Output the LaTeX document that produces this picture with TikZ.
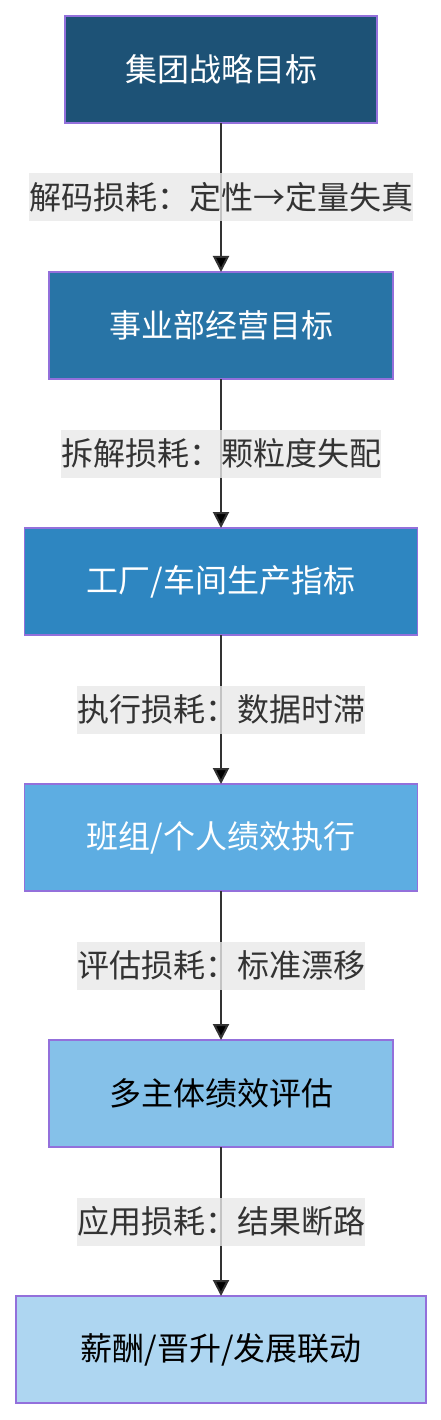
\documentclass[tikz,border=0pt]{standalone}
\usepackage{fontspec}
\setmainfont{Noto Sans CJK SC}
\usetikzlibrary{
    arrows.meta,
    positioning
}
\definecolor{lvA}{HTML}{1D5276}
\definecolor{lvB}{HTML}{2874A6}
\definecolor{lvC}{HTML}{2E86C1}
\definecolor{lvD}{HTML}{5DADE2}
\definecolor{lvE}{HTML}{85C1E9}
\definecolor{lvF}{HTML}{AED6F1}
\definecolor{rim}{HTML}{9370DB}
\definecolor{ink}{HTML}{333333}
\definecolor{lossgray}{HTML}{E8E8E8}
\tikzset{
    every picture/.style = {
        > = {Triangle[length=16pt, width=16pt]},
        line width = 2pt
    },
    level/.style = {
        rectangle,
        draw = rim,
        line width = 1.5pt,
        inner xsep = 60pt,
        inner ysep = 0pt,
        outer sep = 0pt,
        minimum height = 107pt,
        text = white
    },
    dark/.style = {text = black},
    loss/.style = {
        fill = lossgray,
        fill opacity = 0.8,
        text opacity = 1,
        text = ink,
        inner xsep = 0pt,
        inner ysep = 0pt,
        minimum height = 48pt
    }
}

\begin{document}
\begin{tikzpicture}[node font = {\fontsize{32pt}{48pt}\selectfont}]
    \useasboundingbox (0pt,0pt) rectangle (441pt,-1420pt);

    \node[level, fill = lvA, minimum width = 312pt] (0) at (221pt,-69.5pt) {集团战略目标};
    \node[level, fill = lvB, minimum width = 344pt] (1) [below = 149pt of 0] {事业部经营目标};
    \node[level, fill = lvC, minimum width = 393pt] (2) [below = 149pt of 1] {工厂/车间生产指标};
    \node[level, fill = lvD, minimum width = 393pt] (3) [below = 149pt of 2] {班组/个人绩效执行};
    \node[level, dark, fill = lvE, minimum width = 344pt] (4) [below = 149pt of 3] {多主体绩效评估};
    \node[level, dark, fill = lvF, minimum width = 410pt] (5) [below = 149pt of 4] {薪酬/晋升/发展联动};

    \path[->, draw = ink] (0) edge node[loss] {解码损耗：定性→定量失真} (1);
    \path[->, draw = ink] (1) edge node[loss] {拆解损耗：颗粒度失配} (2);
    \path[->, draw = ink] (2) edge node[loss] {执行损耗：数据时滞} (3);
    \path[->, draw = ink] (3) edge node[loss] {评估损耗：标准漂移} (4);
    \path[->, draw = ink] (4) edge node[loss] {应用损耗：结果断路} (5);
\end{tikzpicture}
\end{document}
